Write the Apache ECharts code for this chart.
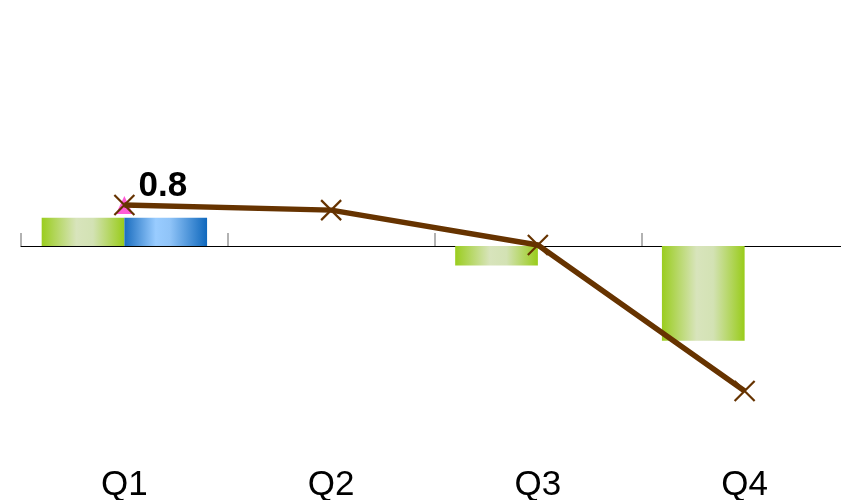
<!DOCTYPE html>
<html>
<head>
<meta charset="utf-8">
<script src="https://cdn.jsdelivr.net/npm/echarts@6/dist/echarts.min.js"></script>
<style>html,body{margin:0;padding:0;background:#fff;}#c{width:841px;height:500px;}</style>
</head>
<body>
<div id="c"></div>
<script>
const categories = ['Q1', 'Q2', 'Q3', 'Q4'];
const greenValues = [0.55, null, -0.38, -1.85];
const blueValues = [0.55, null, null, null];
const lineValues = [0.8, 0.7, 0.02, -2.83];
const triangleValues = [0.8, null, null, null];

const chart = echarts.init(document.getElementById('c'));
const greenGrad = new echarts.graphic.LinearGradient(0, 0, 1, 0, [
  {offset: 0, color: '#9ACD1E'},
  {offset: 0.42, color: '#D8E4BC'},
  {offset: 0.62, color: '#D3E2B4'},
  {offset: 1, color: '#99CC1A'}
]);
const blueGrad = new echarts.graphic.LinearGradient(0, 0, 1, 0, [
  {offset: 0, color: '#1A6DBF'},
  {offset: 0.38, color: '#99CCFF'},
  {offset: 0.55, color: '#90C4F8'},
  {offset: 1, color: '#0F68BD'}
]);
const xPath = 'path://M0,0L10,10M10,0L0,10';

chart.setOption({
  animation: false,
  backgroundColor: '#fff',
  grid: {left: 21, width: 827, top: 0, bottom: 49, containLabel: false, outerBoundsMode: 'none'},
  xAxis: [{
    type: 'category', data: categories, position: 'bottom',
    axisLine: {onZero: true, lineStyle: {color: '#000', width: 1.2}},
    axisTick: {show: true, inside: true, length: 13, lineStyle: {color: '#999', width: 1.5}},
    axisLabel: {show: false}, splitLine: {show: false}
  }, {
    type: 'category', data: categories, position: 'bottom',
    axisLine: {show: false, onZero: false}, axisTick: {show: false},
    axisLabel: {show: true, margin: 17, fontSize: 35, color: '#000', fontFamily: 'Liberation Sans'},
    splitLine: {show: false}
  }],
  yAxis: {type: 'value', min: -4, max: 4.8, show: false, splitLine: {show: false}},
  series: [{
    type: 'bar', data: greenValues, barGap: '0%', barCategoryGap: '20%',
    itemStyle: {color: greenGrad}, z: 2
  }, {
    type: 'bar', data: blueValues, barGap: '0%', barCategoryGap: '20%',
    itemStyle: {color: blueGrad}, z: 2
  }, {
    type: 'scatter', data: triangleValues, symbol: 'triangle', symbolSize: [17, 18],
    itemStyle: {color: '#FF33CC'}, z: 3
  }, {
    type: 'line', data: lineValues.map((v, i) => i === 0 ? {
      value: v,
      label: {show: true, position: 'right', offset: [-2, -19], formatter: '{c}',
        fontSize: 35, fontWeight: 'bold', color: '#000', fontFamily: 'Liberation Sans'}
    } : v),
    symbol: xPath, symbolSize: 20, showAllSymbol: true,
    lineStyle: {color: '#663300', width: 5.5},
    itemStyle: {color: 'transparent', borderColor: '#663300', borderWidth: 2.2},
    z: 4
  }]
});
</script>
</body>
</html>
